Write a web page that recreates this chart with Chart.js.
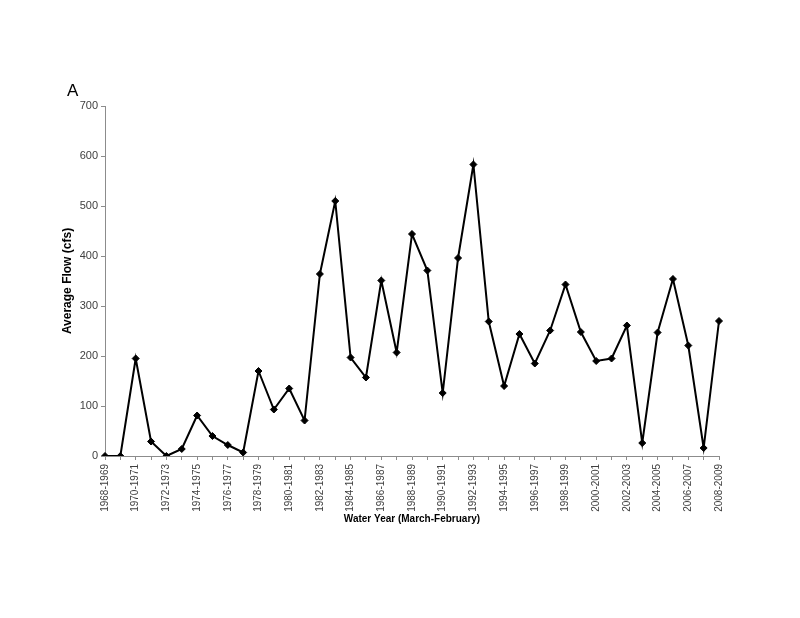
<!DOCTYPE html>
<html>
<head>
<meta charset="utf-8">
<script src="https://cdn.jsdelivr.net/npm/chart.js@4"></script>
<style>
  body { margin: 0; background: #fff; }
  #wrap { position: relative; width: 800px; height: 618px; }
  #panel { position: absolute; left: 67px; top: 81px; font: 17px "Liberation Sans", Arial, sans-serif; color: #000; }
</style>
</head>
<body>
<div id="wrap">
  <canvas id="flowChart" width="800" height="618"></canvas>
  <div id="panel">A</div>
</div>
<script>
// water years, March-February
const waterYears = [];
for (let y = 1968; y <= 2008; y++) waterYears.push(y + '-' + (y + 1));

// average flow (cfs)
const avgFlow = [0, 0, 195, 29, 0, 14, 81, 40, 22, 7,
                 170, 93, 135, 71, 364, 510, 197, 157, 351, 207,
                 444, 371, 126, 396, 583, 269, 140, 244, 185, 251,
                 343, 248, 190, 195, 261, 26, 247, 354, 221, 16,
                 270];

const yTicks = [0, 100, 200, 300, 400, 500, 600, 700];

const axisGray = '#8c8c8c';
const textGray = '#404040';
const fontFamily = '"Liberation Sans", Arial, sans-serif';

const ctx = document.getElementById('flowChart').getContext('2d');
const flowChart = new Chart(ctx, {
    type: 'line',
    data: {
        labels: waterYears,
        datasets: [{
            label: 'Average Flow',
            data: avgFlow,
            borderColor: '#000',
            borderWidth: 2,
            backgroundColor: '#000',
            pointStyle: 'rectRot',
            pointRadius: 3.5,
            pointBorderWidth: 1,
            tension: 0,
            fill: false
        }]
    },
    options: {
        responsive: false,
        animation: false,
        layout: { padding: { left: 60, top: 106, right: 81, bottom: 93 } },
        plugins: {
            legend: { display: false },
            tooltip: { enabled: false }
        },
        scales: {
            x: {
                type: 'category',
                offset: false,
                afterFit: function (scale) { scale.height = 69; },
                grid: { drawOnChartArea: false, drawTicks: true, tickLength: 4, color: axisGray, offset: false },
                border: { display: true, color: axisGray, width: 1 },
                ticks: {
                    autoSkip: false,
                    minRotation: 90,
                    maxRotation: 90,
                    padding: 4,
                    color: textGray,
                    font: { family: fontFamily, size: 10 },
                    callback: function (value, index) {
                        return index % 2 === 0 ? waterYears[index] : '';
                    }
                },
                title: {
                    display: true,
                    text: 'Water Year (March-February)',
                    color: '#000',
                    padding: 0,
                    font: { family: fontFamily, size: 10, weight: 'bold' }
                }
            },
            y: {
                min: 0,
                max: 700,
                afterFit: function (scale) { scale.width = 45; },
                afterBuildTicks: function (scale) {
                    scale.ticks = yTicks.map(function (v) { return { value: v }; });
                },
                grid: { drawOnChartArea: false, drawTicks: true, tickLength: 4, color: axisGray },
                border: { display: true, color: axisGray, width: 1 },
                ticks: {
                    padding: 3,
                    color: textGray,
                    font: { family: fontFamily, size: 11 }
                },
                title: {
                    display: true,
                    text: 'Average Flow (cfs)',
                    color: '#000',
                    padding: 0,
                    font: { family: fontFamily, size: 12, weight: 'bold' }
                }
            }
        }
    }
});
</script>
</body>
</html>
